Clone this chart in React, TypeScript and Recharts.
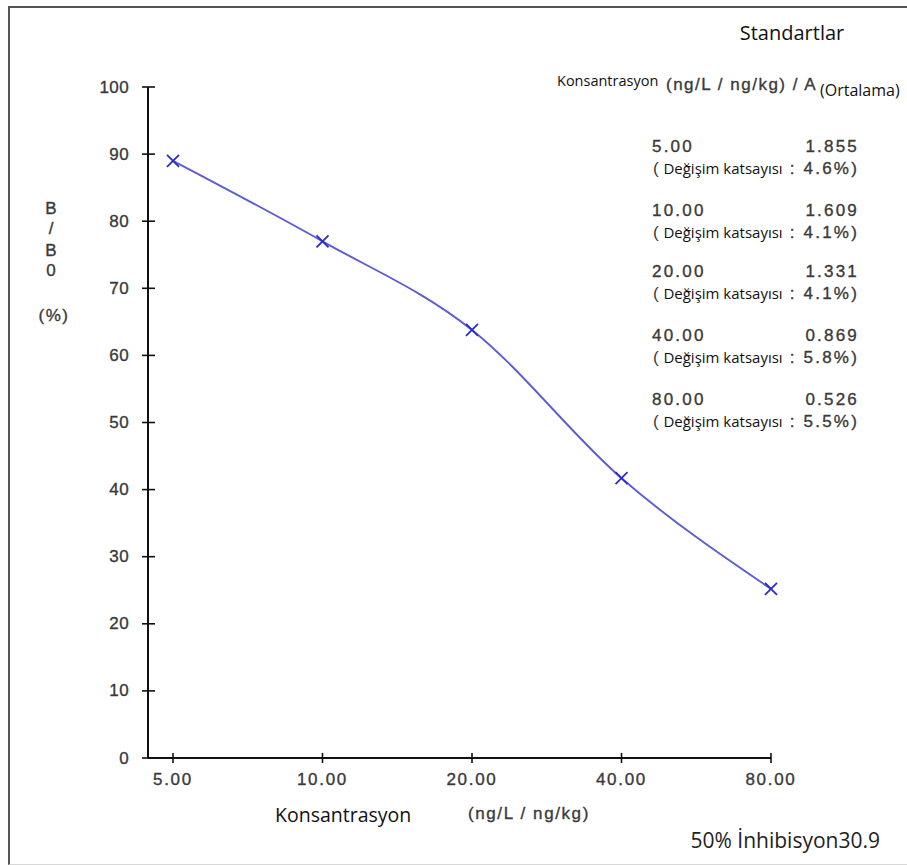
import { LineChart, Line, XAxis, YAxis } from "recharts";

const concLabels = ["5.00", "10.00", "20.00", "40.00", "80.00"];
const bB0Values = [89.0, 77.0, 63.8, 41.7, 25.2];
const absorbance = ["1.855", "1.609", "1.331", "0.869", "0.526"];
const cvValues = ["4.6%", "4.1%", "4.1%", "5.8%", "5.5%"];
const yTicks = [0, 10, 20, 30, 40, 50, 60, 70, 80, 90, 100];
const yLabelParts = ["B", "/", "B", "0"];

const chartData = concLabels.map((c, i) => ({ conc: c, value: bB0Values[i] }));

const ARIAL = '"Liberation Sans", Arial, sans-serif';
const SEGOE = '"Open Sans", "Noto Sans", sans-serif';

// page offset of the framed box content (box at 8,6 + 2px border)
const OX = 10;
const OY = 8;

type TxtProps = {
    x: number
    y: number
    right?: boolean
    center?: boolean
    style?: React.CSSProperties
    children: React.ReactNode
}

function Txt({ x, y, right, center, style, children }: TxtProps) {
    const tx = right ? "-100%" : center ? "-50%" : "0";
    return (
        <div
            style={{
                position: "absolute",
                left: x - OX,
                top: y - OY,
                transform: `translate(${tx}, -50%)`,
                whiteSpace: "nowrap",
                lineHeight: 1,
                ...style,
            }}
        >
            {children}
        </div>
    );
}

function YTick(props: any) {
    const { x, y, payload } = props;
    return (
        <g>
            <line x1={x - 6} y1={y} x2={x + 7} y2={y} stroke="#111" strokeWidth={1.6} />
            <text x={x - 19} y={y} textAnchor="end" dominantBaseline="central"
                fontFamily={ARIAL} fontSize={17} letterSpacing={0.4} fill="#3a3a3a"
                stroke="#3a3a3a" strokeWidth={0.35}>
                {payload.value}
            </text>
        </g>
    );
}

function XTick(props: any) {
    const { x, y, payload } = props;
    return (
        <g>
            <line x1={x} y1={y - 5} x2={x} y2={y + 5} stroke="#111" strokeWidth={1.6} />
            <text x={x} y={y + 21} textAnchor="middle" dominantBaseline="central"
                fontFamily={ARIAL} fontSize={17} letterSpacing={1.7} fill="#3a3a3a"
                stroke="#3a3a3a" strokeWidth={0.35}>
                {payload.value}
            </text>
        </g>
    );
}

function CrossDot(props: any) {
    const { cx, cy } = props;
    if (cx == null || cy == null) return null;
    return (
        <g>
            <line x1={cx - 6} y1={cy - 6} x2={cx + 6} y2={cy + 6} stroke="#2a2ad0" strokeWidth={1.7} />
            <line x1={cx - 6} y1={cy + 6} x2={cx + 6} y2={cy - 6} stroke="#2a2ad0" strokeWidth={1.7} />
        </g>
    );
}

const bolder: React.CSSProperties = { WebkitTextStroke: "0.35px #3a3a3a" };

const numStyle: React.CSSProperties = {
    fontFamily: ARIAL, fontSize: 17, letterSpacing: 2.2, color: "#3a3a3a", ...bolder,
};

export default function App() {
    return (
        <div
            style={{
                position: "absolute",
                left: 8,
                top: 6,
                width: 897,
                height: 856,
                borderTop: "2px solid #555",
                borderLeft: "2px solid #555",
                borderBottom: "1px solid #d8d8d8",
                overflow: "hidden",
                background: "#fff",
            }}
        >
            <LineChart width={897} height={856} data={chartData}
                margin={{ top: 79, right: 136, bottom: 0, left: 0 }}>
                <XAxis dataKey="conc" type="category" height={106} padding={{ left: 25, right: 0 }}
                    axisLine={{ stroke: "#111", strokeWidth: 2 }} tickLine={false}
                    tickSize={0} tickMargin={0} tick={<XTick />} interval={0} />
                <YAxis type="number" domain={[0, 100]} ticks={yTicks} width={138}
                    axisLine={{ stroke: "#111", strokeWidth: 2 }} tickLine={false}
                    tickSize={0} tickMargin={0} tick={<YTick />} interval={0} />
                <Line type="monotone" dataKey="value" stroke="#5c5cd8" strokeWidth={1.9}
                    dot={<CrossDot />} activeDot={false} isAnimationActive={false} />
            </LineChart>

            {/* y axis title */}
            {yLabelParts.map((p, i) => (
                <Txt key={i} x={51} y={[208, 228, 250, 270][i]} center
                    style={{ fontFamily: ARIAL, fontSize: 17, color: "#3a3a3a", ...bolder }}>{p}</Txt>
            ))}
            <Txt x={54} y={315} center style={{ fontFamily: ARIAL, fontSize: 17, color: "#3a3a3a", letterSpacing: 1.5, ...bolder }}>(%)</Txt>

            {/* x axis titles */}
            <Txt x={275} y={815} style={{ fontFamily: SEGOE, fontSize: 19.5, color: "#111" }}>Konsantrasyon</Txt>
            <Txt x={468} y={813} style={{ fontFamily: ARIAL, fontSize: 17, color: "#3a3a3a", letterSpacing: 1.6, ...bolder }}>(ng/L / ng/kg)</Txt>
            <Txt x={880} y={840} right style={{ fontFamily: SEGOE, fontSize: 21, color: "#222" }}>50% İnhibisyon30.9</Txt>

            {/* standards panel */}
            <Txt x={792} y={33} center style={{ fontFamily: SEGOE, fontSize: 20, color: "#111" }}>Standartlar</Txt>
            <Txt x={557} y={81} style={{ fontFamily: SEGOE, fontSize: 14.5, color: "#111" }}>Konsantrasyon</Txt>
            <Txt x={666} y={84} style={{ fontFamily: ARIAL, fontSize: 17, color: "#3a3a3a", letterSpacing: 1.5, ...bolder }}>(ng/L / ng/kg) / A</Txt>
            <Txt x={820} y={90} style={{ fontFamily: SEGOE, fontSize: 16, color: "#111" }}>(Ortalama)</Txt>

            {concLabels.map((c, i) => {
                const y = [146, 210, 271, 335, 399][i];
                return (
                    <div key={c}>
                        <Txt x={652} y={y} style={numStyle}>{c}</Txt>
                        <Txt x={859} y={y} right style={numStyle}>{absorbance[i]}</Txt>
                        <Txt x={653} y={y + 22} style={{ fontFamily: SEGOE, fontSize: 15, color: "#111" }}>
                            <span style={{ fontFamily: ARIAL, fontSize: 17, color: "#3a3a3a" }}>( </span>Değişim katsayısı
                        </Txt>
                        <Txt x={859} y={y + 22} right style={numStyle}>: {cvValues[i]})</Txt>
                    </div>
                );
            })}
        </div>
    );
}
